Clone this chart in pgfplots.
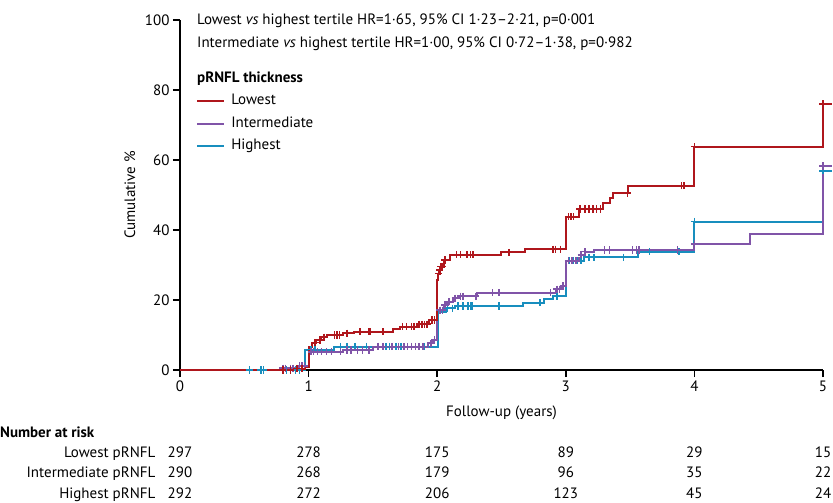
\documentclass[border=0pt]{standalone}
\usepackage{fontspec}
\setmainfont{PT Sans}
\usepackage{pgfplots}
\pgfplotsset{compat=1.18}
\definecolor{lowred}{RGB}{175,22,28}
\definecolor{midpurple}{RGB}{128,84,168}
\definecolor{highblue}{RGB}{24,142,190}

\begin{document}
\begin{tikzpicture}[font=\fontsize{15}{18}\selectfont]
% crop to the reference frame (1px = 1pt, axis origin at 0,0)
\useasboundingbox (-180pt,-133pt) rectangle (653pt,370pt);
\begin{axis}[
  at={(0pt,0pt)}, anchor=south west,
  x=128.6pt, y=3.5pt,
  xmin=0, xmax=5, ymin=0, ymax=100,
  axis lines*=left,
  axis line style={line width=2pt},
  xtick={0,1,2,3,4,5},
  ytick={0,20,40,60,80,100},
  tick align=outside,
  major tick length=7pt,
  tick style={line width=1.7pt, black},
  tick label style={font=\fontsize{15}{18}\selectfont},
  /pgf/number format/assume math mode=true,
  xlabel={Follow-up (years)},
  ylabel={Cumulative \%},
  xlabel style={at={(axis description cs:0.5,-0.123)}, anchor=center},
  ylabel style={at={(axis description cs:-0.078,0.5)}, anchor=center},
  clip=false,
  legend reversed,
  legend cell align=left,
  legend style={at={(axis cs:0.125,79.0)}, anchor=north west,
    draw=none, fill=none, inner sep=0pt, row sep=7.5pt,
    nodes={inner sep=0pt, text height=11pt, text depth=4pt},
    /tikz/every odd column/.append style={column sep=6pt}},
  legend image code/.code={\draw[#1, line width=2pt]
    plot coordinates {(0pt,0pt) (27pt,0pt)};},
]
% Highest tertile
\addplot[const plot, highblue, line width=2pt] coordinates {
  (0,0) (0.97,5.8) (1.20,6.7) (2.01,16.7) (2.07,17.6) (2.14,18.3)
  (2.67,19.2) (2.83,20.2) (2.90,21.1) (3.00,31.2) (3.14,32.2)
  (3.56,33.8) (4.00,42.4) (5.00,56.9) (5.07,56.9)};
\addlegendentry{Highest}
\addplot[only marks, mark=+, mark size=3.6pt, highblue,
  mark options={line width=1.5pt}, forget plot] coordinates {
  (0.54,0) (0.63,0) (0.65,0) (0.83,0) (0.90,0) (0.93,0)
  (1.02,5.8) (1.05,5.8) (1.25,6.7) (1.30,6.7) (1.36,6.7) (1.45,6.7)
  (1.54,6.7) (1.60,6.7) (1.63,6.7) (1.68,6.7) (1.72,6.7) (1.90,6.7)
  (2.08,17.6) (2.12,17.6) (2.16,18.3) (2.20,18.3) (2.24,18.3)
  (2.26,18.3) (2.27,18.3) (2.48,18.3) (2.80,19.2) (2.93,21.1)
  (3.03,31.2) (3.06,31.2) (3.09,31.2) (3.12,31.2) (3.18,32.2)
  (3.22,32.2) (3.45,32.2) (3.65,33.8) (3.88,33.8) (4.00,42.4)
  (5.00,56.9)};
% Intermediate tertile
\addplot[const plot, midpurple, line width=2pt] coordinates {
  (0,0) (0.78,0.5) (0.92,1.2) (1.00,5.2) (1.27,5.7) (1.50,6.7)
  (1.93,7.6) (1.97,8.6) (2.00,17.1) (2.05,18.6) (2.08,19.5)
  (2.12,20.5) (2.17,21.1) (2.31,22.1) (2.92,23.1) (2.96,24.0)
  (3.00,31.2) (3.10,32.0) (3.12,32.9) (3.15,33.8) (3.22,34.3)
  (4.00,36.0) (4.43,38.9) (5.00,58.3) (5.07,58.3)};
\addlegendentry{Intermediate}
\addplot[only marks, mark=+, mark size=3.6pt, midpurple,
  mark options={line width=1.5pt}, forget plot] coordinates {
  (0.80,0.5) (0.82,0.5) (0.86,0.5) (0.88,0.5) (0.93,1.2) (0.95,1.2)
  (0.97,1.2) (1.02,5.2) (1.04,5.2) (1.07,5.2) (1.10,5.2) (1.14,5.2)
  (1.18,5.2) (1.25,5.2) (1.30,5.7) (1.33,5.7) (1.38,5.7) (1.42,5.7)
  (1.47,5.7) (1.54,6.7) (1.58,6.7) (1.65,6.7) (1.70,6.7) (1.74,6.7)
  (1.77,6.7) (1.80,6.7) (1.83,6.7) (1.86,6.7) (1.89,6.7) (1.95,7.6)
  (1.98,8.6) (2.02,17.1) (2.04,17.1) (2.06,18.6) (2.09,19.5)
  (2.14,20.5) (2.18,21.1) (2.20,21.1) (2.30,21.1) (2.43,22.1)
  (2.48,22.1) (2.88,22.1) (2.93,23.1) (2.95,23.1) (2.98,24.0)
  (3.02,31.2) (3.05,31.2) (3.08,31.2) (3.12,32.9) (3.15,33.8)
  (3.30,34.3) (3.34,34.3) (3.52,34.3) (3.55,34.3) (3.57,34.3)
  (3.87,34.3) (4.00,36.0) (5.00,58.3)};
% Lowest tertile
\addplot[const plot, lowred, line width=2pt] coordinates {
  (0,0) (0.90,0.4) (0.97,0.8) (1.00,6.7) (1.03,7.8) (1.06,8.6)
  (1.10,9.4) (1.14,10.0) (1.27,10.5) (1.35,10.9) (1.66,11.6)
  (1.71,12.4) (1.84,13.1) (1.94,14.3) (2.00,25.7) (2.01,27.5)
  (2.02,28.5) (2.03,29.5) (2.05,31.4) (2.10,32.9) (2.50,33.6)
  (2.68,34.5) (3.00,43.8) (3.10,46.0) (3.29,47.6) (3.34,49.1)
  (3.37,50.5) (3.48,52.6) (4.00,63.8) (5.00,76.0) (5.07,76.0)};
\addlegendentry{Lowest}
\addplot[only marks, mark=+, mark size=3.6pt, lowred,
  mark options={line width=1.5pt}, forget plot] coordinates {
  (0.80,0) (0.86,0) (0.91,0.4) (0.95,0.4) (1.05,7.8) (1.09,8.6)
  (1.12,9.4) (1.20,10.0) (1.22,10.0) (1.24,10.0) (1.30,10.5)
  (1.40,10.9) (1.47,10.9) (1.48,10.9) (1.58,10.9) (1.73,12.4)
  (1.76,12.4) (1.80,12.4) (1.82,12.4) (1.86,13.1) (1.88,13.1)
  (1.90,13.1) (1.92,13.1) (1.96,14.3) (1.98,14.3) (2.01,27.5)
  (2.02,28.5) (2.03,29.5) (2.04,29.5) (2.06,31.4) (2.15,32.9)
  (2.18,32.9) (2.23,32.9) (2.26,32.9) (2.28,32.9) (2.56,33.6)
  (2.90,34.5) (2.92,34.5) (2.96,34.5) (3.02,43.8) (3.04,43.8)
  (3.06,43.8) (3.11,46.0) (3.15,46.0) (3.18,46.0) (3.21,46.0)
  (3.24,46.0) (3.27,46.0) (3.48,50.5) (3.90,52.6) (3.92,52.6)
  (4.00,63.8) (5.00,76.0)};

% hazard ratios and legend title
\node[anchor=base west, inner sep=0pt] at (axis cs:0.132,98.7)
  {Lowest \textit{vs} highest tertile HR=1·65, 95\% CI 1·23–2·21, p=0·001};
\node[anchor=base west, inner sep=0pt] at (axis cs:0.132,92.1)
  {Intermediate \textit{vs} highest tertile HR=1·00, 95\% CI 0·72–1·38, p=0·982};
\node[anchor=base west, inner sep=0pt] at (axis cs:0.132,82.2) {\textbf{pRNFL thickness}};

% number at risk
\node[anchor=base west, inner sep=0pt] at (axis cs:-1.40,-19.3) {\textbf{Number at risk}};
\node[anchor=base east, inner sep=0pt] at (axis cs:-0.19,-24.9) {Lowest pRNFL};
\node[anchor=base east, inner sep=0pt] at (axis cs:-0.19,-30.7) {Intermediate pRNFL};
\node[anchor=base east, inner sep=0pt] at (axis cs:-0.19,-36.7) {Highest pRNFL};
\node[anchor=base] at (axis cs:0,-24.9) {297};
\node[anchor=base] at (axis cs:1,-24.9) {278};
\node[anchor=base] at (axis cs:2,-24.9) {175};
\node[anchor=base] at (axis cs:3,-24.9) {89};
\node[anchor=base] at (axis cs:4,-24.9) {29};
\node[anchor=base] at (axis cs:5,-24.9) {15};
\node[anchor=base] at (axis cs:0,-30.7) {290};
\node[anchor=base] at (axis cs:1,-30.7) {268};
\node[anchor=base] at (axis cs:2,-30.7) {179};
\node[anchor=base] at (axis cs:3,-30.7) {96};
\node[anchor=base] at (axis cs:4,-30.7) {35};
\node[anchor=base] at (axis cs:5,-30.7) {22};
\node[anchor=base] at (axis cs:0,-36.7) {292};
\node[anchor=base] at (axis cs:1,-36.7) {272};
\node[anchor=base] at (axis cs:2,-36.7) {206};
\node[anchor=base] at (axis cs:3,-36.7) {123};
\node[anchor=base] at (axis cs:4,-36.7) {45};
\node[anchor=base] at (axis cs:5,-36.7) {24};
\end{axis}
\end{tikzpicture}
\end{document}
